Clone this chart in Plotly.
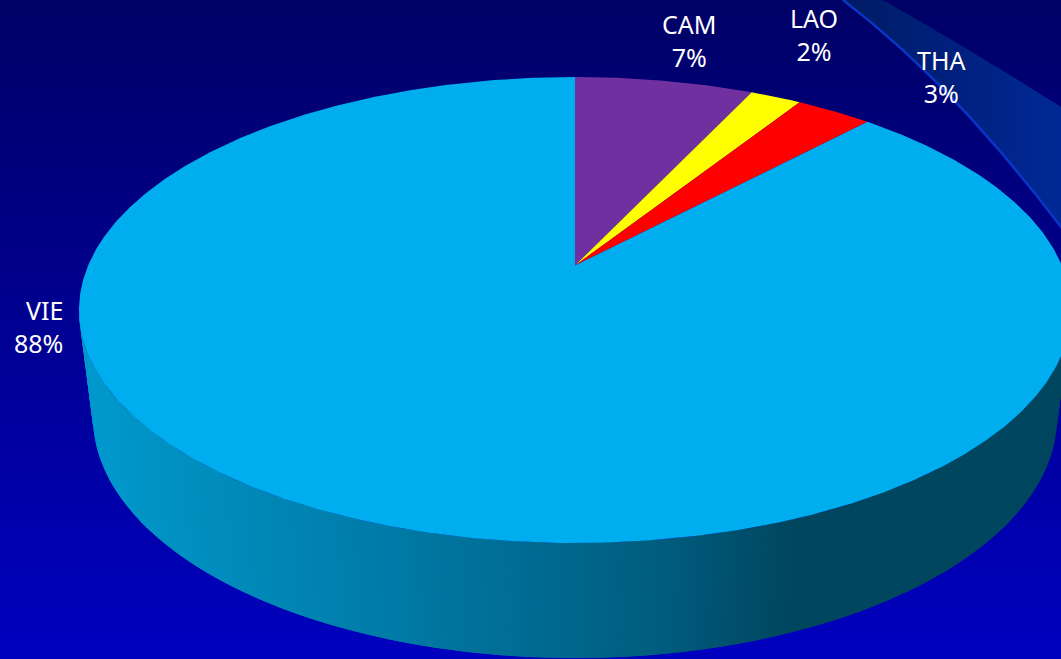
import numpy as np
import plotly.graph_objects as go

categories = ["CAM", "LAO", "THA", "VIE"]
shares = [7, 2, 3, 88]
slice_colors = ["#7030A0", "#FFFF00", "#FF0000", "#00AEEF"]
label_pos = [(689, 40.5, "center"), (814, 34.5, "center"), (941, 76.5, "center"), (65, 326.5, "right")]

W, H = 1061, 659
# perspective view of the pie's top disc
CX, APEX_Y, TOP_Y, BOTTOM_Y, HALF_W = 575.0, 265.5, 77.0, 543.0, 496.0
up, dn = APEX_Y - TOP_Y, BOTTOM_Y - APEX_Y
k = (dn - up) / (dn + up)
h = up * (1 + k)
w = HALF_W * np.sqrt(1 - k * k)


def disc(theta):
    u, v = np.sin(theta), np.cos(theta)
    d = 1 + k * v
    return CX + w * u / d, APEX_Y - h * v / d


fig = go.Figure()

# background gradient
fig.add_trace(go.Heatmap(x=[0, W], y=[0, H], z=[[0, 0], [1, 1]], zsmooth="best", showscale=False,
                         colorscale=[[0, "#000066"], [1, "#0000BF"]], hoverinfo="skip"))


def lerp_color(x, stops):
    xs = [s[0] for s in stops]
    r = np.interp(x, xs, [s[1][0] for s in stops])
    g = np.interp(x, xs, [s[1][1] for s in stops])
    b = np.interp(x, xs, [s[1][2] for s in stops])
    return f"rgb({r:.0f},{g:.0f},{b:.0f})"


# decorative swoosh at top right
band_stops = [(845, (0, 28, 100)), (950, (0, 32, 125)), (1061, (0, 42, 150))]
def lower_edge(x):
    t = (x - 843) / 218
    return 227 * (0.73 * t + 0.27 * t * t)
def upper_edge(x):
    t = (x - 883) / 178
    return 107 * (0.95 * t + 0.05 * t * t)
xs = np.arange(843, 1062, 4.0)
for x0 in xs[:-1]:
    seg = np.array([x0, x0 + 6])
    top = np.maximum(upper_edge(seg), 0)
    top[seg < 883] = 0
    fig.add_trace(go.Scatter(x=[seg[0], seg[1], seg[1], seg[0]],
                             y=[top[0], top[1], lower_edge(seg[1]), lower_edge(seg[0])],
                             mode="lines", line=dict(width=0), fill="toself",
                             fillcolor=lerp_color(x0, band_stops), hoverinfo="skip"))
lx = np.linspace(843, 1062, 60)
fig.add_trace(go.Scatter(x=lx, y=lower_edge(lx), mode="lines", line=dict(color="#0A36C8", width=2.5), hoverinfo="skip"))

# side wall
TOP_CY, TOP_B = 310.0, 233.0
BASE_CY, BASE_A, BASE_B = 417.0, 482.0, 241.0
wall_stops = [(80, (0, 154, 206)), (130, (0, 148, 198)), (400, (0, 121, 165)),
              (661, (0, 92, 126)), (790, (0, 70, 95)), (1061, (0, 70, 95))]
phis = np.radians(np.arange(270, 89, -0.8))
for i in range(len(phis) - 1):
    p = phis[i:i + 3]
    tx, ty = CX + HALF_W * np.sin(p), TOP_CY - TOP_B * np.cos(p)
    bx, by = CX + BASE_A * np.sin(p), BASE_CY - BASE_B * np.cos(p)
    fig.add_trace(go.Scatter(x=np.r_[tx, bx[::-1]], y=np.r_[ty, by[::-1]], mode="lines", line=dict(width=0),
                             fill="toself", fillcolor=lerp_color(tx[0], wall_stops), hoverinfo="skip"))

# slices, clockwise from twelve o'clock
start = 0.0
total = sum(shares)
for cat, val, col in zip(categories, shares, slice_colors):
    t = np.linspace(start, start + val / total, max(int(val * 8), 12)) * 2 * np.pi
    x, y = disc(t)
    fig.add_trace(go.Scatter(x=np.r_[CX, x, CX], y=np.r_[APEX_Y, y, APEX_Y], mode="lines", name=cat,
                             line=dict(width=0), fill="toself", fillcolor=col, hoverinfo="skip"))
    start += val / total

annotations = []
for cat, val, (ax, ay, al) in zip(categories, shares, label_pos):
    annotations.append(dict(x=ax, y=ay, xref="x", yref="y", text=f"{cat}<br>{val}%", showarrow=False,
                            align=al, xanchor=al, yanchor="middle",
                            font=dict(family="Noto Sans", size=25, color="white")))

fig.update_layout(width=W, height=H, margin=dict(l=0, r=0, t=0, b=0), showlegend=False,
                  paper_bgcolor="#000080", plot_bgcolor="#000080", annotations=annotations,
                  xaxis=dict(range=[0, W], visible=False, fixedrange=True),
                  yaxis=dict(range=[H, 0], visible=False, fixedrange=True))

fig.write_html("out.html", config={"displayModeBar": False},
               post_script="document.body.style.margin='0';document.documentElement.style.overflow='hidden';")
